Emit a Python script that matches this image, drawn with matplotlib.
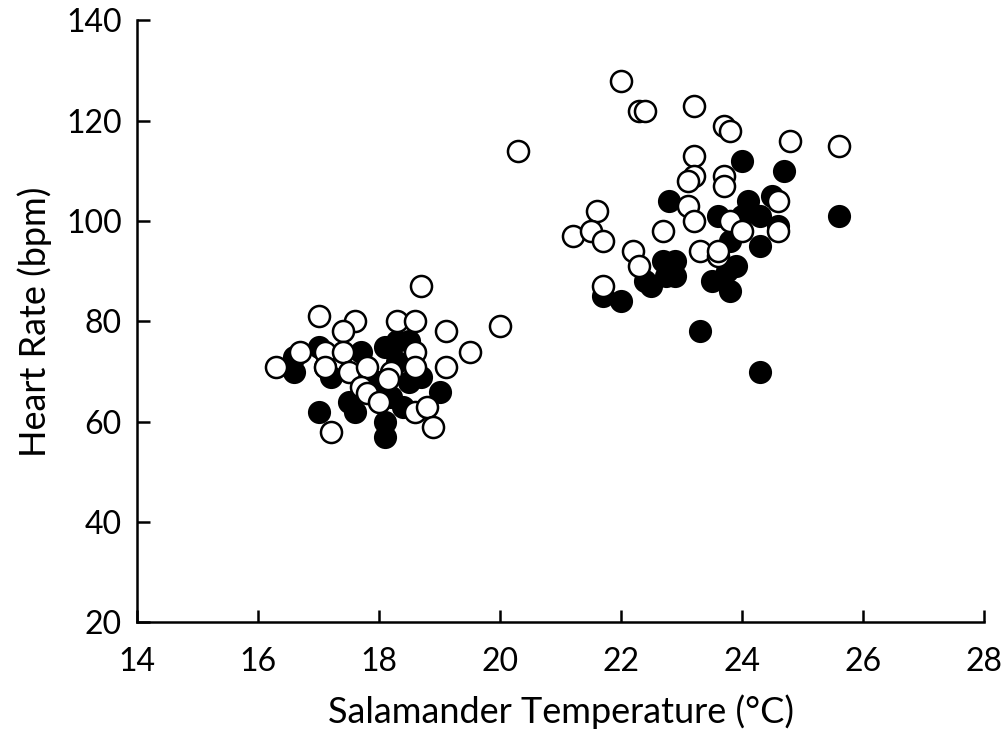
import matplotlib.pyplot as plt

# open circles
open_x = [18.7, 17.0, 17.6, 17.4, 18.3, 18.6, 19.1, 20.0, 19.5, 16.7, 17.1, 17.4,
          16.3, 17.1, 17.5, 17.8, 18.6, 18.6, 18.2, 18.15, 19.1, 17.7, 17.8, 18.0,
          18.6, 18.8, 18.9, 17.2,
          22.0, 22.3, 22.4, 20.3, 21.6, 21.2, 21.5, 21.7, 22.7, 22.2, 22.3, 21.7,
          23.2, 23.7, 23.8, 24.8, 25.6, 23.2, 23.2, 23.1, 23.7, 23.7, 23.1, 23.2,
          24.6, 24.6, 23.8, 24.0, 23.3, 23.6, 23.6]
open_y = [87, 81, 80, 78, 80, 80, 78, 79, 74, 74, 74, 74,
          71, 71, 70, 71, 74, 71, 70, 68.6, 71, 67, 65.7, 64,
          62, 63, 59, 58,
          128, 122, 122, 114, 102, 97, 98, 96, 98, 94, 91, 87,
          123, 119, 118, 116, 115, 113, 109, 108, 109, 107, 103, 100,
          104, 98, 100, 98, 94, 93, 94]

# filled circles
filled_x = [17.0, 16.6, 16.6, 17.2, 17.7, 18.1, 18.3, 18.5, 18.3, 18.5, 18.7, 19.0,
            17.5, 17.6, 17.0, 18.2, 18.4, 18.1, 18.1, 18.0, 17.1,
            22.8, 21.7, 22.0, 22.7, 22.9, 22.4, 22.5, 22.75, 22.9, 24.0, 24.7, 24.1,
            24.5, 23.6, 24.0, 24.3, 24.6, 25.6, 23.8, 24.3, 23.9, 23.75, 23.5, 23.8,
            23.3, 24.3]
filled_y = [75, 73, 70, 69, 74, 75, 76, 76, 72, 68, 69, 66,
            64, 62, 62, 65, 63, 60, 57, 68, 71,
            104, 85, 84, 92, 92, 88, 87, 89, 89, 112, 110, 104,
            105, 101, 101, 101, 99, 101, 96, 95, 91, 90, 88, 86,
            78, 70]

x_ticks = [14, 16, 18, 20, 22, 24, 26, 28]
y_ticks = [20, 40, 60, 80, 100, 120, 140]

plt.rcParams["font.family"] = ["Lato", "DejaVu Sans"]

fig = plt.figure(figsize=(10.03, 7.3), dpi=100)
ax = fig.add_axes([0.1366, 0.1474, 0.8445, 0.8246])

ax.scatter(filled_x, filled_y, s=230, facecolor="black", edgecolor="black",
           linewidth=1.5, zorder=2)
ax.scatter(open_x, open_y, s=230, facecolor="white", edgecolor="black",
           linewidth=1.8, zorder=3)

ax.set_xlim(14, 28)
ax.set_ylim(20, 140)
ax.set_xticks(x_ticks)
ax.set_yticks(y_ticks)

for side in ["top", "right"]:
    ax.spines[side].set_visible(False)
for side in ["left", "bottom"]:
    ax.spines[side].set_linewidth(1.8)

ax.tick_params(direction="in", length=9, width=1.8, labelsize=23)
ax.tick_params(axis="x", pad=18)
ax.tick_params(axis="y", pad=11)

ax.set_xlabel("Salamander Temperature (°C)", fontsize=26, labelpad=12)
ax.set_ylabel("Heart Rate (bpm)", fontsize=26, labelpad=10)

plt.savefig("out.png", dpi=100)
